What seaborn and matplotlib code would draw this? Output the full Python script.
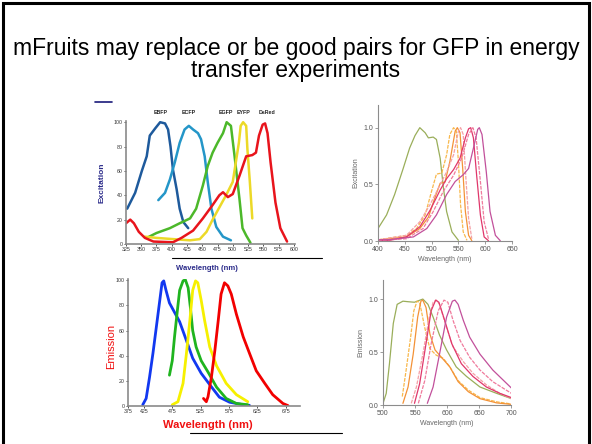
import matplotlib
matplotlib.use("Agg")
import matplotlib.pyplot as plt
from matplotlib.patches import Rectangle
from matplotlib.lines import Line2D
import seaborn as sns

# ---- top-left: excitation of the classic FPs ----
ex_labels = ["EBFP", "ECFP", "EGFP", "EYFP", "DsRed"]
ebfp_ex_x = [327, 340, 351, 359, 364, 373, 381, 389, 394, 398, 402, 408, 413, 419, 427]
ebfp_ex_y = [29, 42, 60, 72, 89, 95, 100, 99, 94, 80, 61, 45, 29, 18, 13]
ecfp_ex_x = [378, 389, 397, 405, 413, 421, 428, 435, 443, 448, 454, 459, 465, 473, 484, 497]
ecfp_ex_y = [36, 42, 53, 67, 83, 94, 97, 94, 91, 86, 72, 51, 29, 14, 6, 3]
egfp_ex_x = [359, 375, 397, 413, 430, 440, 451, 459, 467, 475, 484, 490, 497, 503, 511, 516, 522, 529]
egfp_ex_y = [5, 9, 13, 17, 21, 29, 48, 64, 75, 83, 91, 100, 97, 72, 37, 13, 7, 1]
eyfp_ex_x = [356, 375, 402, 430, 446, 457, 467, 478, 489, 500, 505, 510, 513, 517, 522, 524, 528, 532]
eyfp_ex_y = [6, 5, 4, 3, 4, 10, 20, 30, 40, 51, 67, 83, 97, 100, 97, 78, 51, 21]
dsred_ex_x = [325, 332, 338, 346, 356, 370, 402, 416, 435, 451, 467, 478, 484, 492, 500, 511,
              522, 532, 538, 543, 549, 553, 557, 562, 570, 578, 589]
dsred_ex_y = [17, 20, 17, 10, 5, 2, 1.4, 5, 11, 21, 32, 40, 42.5, 38.5, 41, 56,
              72, 73, 75, 89, 98, 99, 91, 67, 34, 13, 2]
tl_xticks = [325, 350, 375, 400, 425, 450, 475, 500, 525, 550, 575, 600]
tl_yticks = [0, 20, 40, 60, 80, 100]

# ---- bottom-left: emission of the classic FPs ----
bfp_em_x = [423, 429, 435, 441, 447, 453, 457, 460, 464, 470, 479, 488, 500, 511, 526, 541, 558, 576, 600, 611]
bfp_em_y = [1, 6, 23, 42, 63, 84, 98, 99.5, 92, 82, 74.5, 67, 52, 38, 26, 17, 7, 3, 1, 0.5]
gfp_em_x = [470, 475, 479, 484, 488, 494, 498, 503, 507, 511, 517, 526, 538, 553, 570, 588, 608]
gfp_em_y = [24.5, 36, 55, 76, 92, 99.5, 100.5, 94, 78, 60, 47, 36, 27, 15, 6, 2, 1]
yfp_em_x = [475, 485, 494, 500, 506, 511, 516, 520, 526, 532, 541, 553, 570, 588, 608]
yfp_em_y = [1, 3.4, 18, 42, 68, 92, 99.5, 98, 84, 68, 47, 32, 18, 9, 3.4]
dsred_em_x = [530, 535, 538, 544, 550, 556, 561, 567, 573, 579, 588, 600, 611, 623, 638, 652, 670, 679]
dsred_em_y = [6, 3.4, 7.4, 23, 44, 68, 89, 98, 95.5, 89, 73, 55, 42, 28, 18, 9, 2, 0.3]
bl_xticks = [397, 425, 475, 525, 575, 625, 675]
bl_xticklabels = ["375", "425", "475", "525", "575", "625", "675"]
bl_yticks = [0, 20, 40, 60, 80, 100]

# ---- top-right: excitation of the mFruits (plus GFP) ----
g_ex_x = [400, 416, 431, 447, 459, 469, 478, 488, 494, 503, 509, 516, 522, 528, 538, 550]
g_ex_y = [0.11, 0.23, 0.41, 0.64, 0.82, 0.93, 1.0, 0.955, 0.91, 0.917, 0.896, 0.73, 0.47, 0.26, 0.08, 0.006]
a_ex_x = [400, 453, 472, 488, 500, 509, 519, 528, 534, 541, 546, 550, 554, 559, 566]
a_ex_y = [0.01, 0.05, 0.11, 0.23, 0.44, 0.59, 0.60, 0.76, 0.94, 1.0, 0.97, 0.70, 0.32, 0.08, 0.006]
b_ex_x = [400, 453, 478, 494, 506, 516, 525, 534, 544, 548, 553, 558, 563, 569, 575]
b_ex_y = [0.01, 0.036, 0.11, 0.21, 0.38, 0.51, 0.52, 0.70, 0.97, 1.0, 0.955, 0.64, 0.26, 0.05, 0.003]
c_ex_x = [400, 453, 478, 497, 513, 528, 541, 550, 554, 559, 564, 569, 575]
c_ex_y = [0.01, 0.05, 0.17, 0.32, 0.47, 0.61, 0.76, 0.97, 1.0, 0.94, 0.55, 0.20, 0.02]
d_ex_x = [400, 422, 453, 478, 497, 516, 528, 541, 553, 563, 569, 573, 578, 584, 591, 598, 606]
d_ex_y = [0.005, 0.006, 0.036, 0.125, 0.27, 0.45, 0.55, 0.63, 0.73, 0.91, 0.99, 1.0, 0.91, 0.58, 0.23, 0.036, 0.003]
e_ex_x = [400, 453, 484, 503, 522, 541, 556, 569, 577, 583, 591, 598, 606]
e_ex_y = [0.005, 0.02, 0.11, 0.26, 0.44, 0.58, 0.73, 0.94, 1.0, 0.91, 0.525, 0.17, 0.02]
f_ex_x = [400, 422, 466, 491, 509, 528, 544, 559, 569, 578, 586, 589, 594, 602, 609, 619, 628]
f_ex_y = [0.01, 0.012, 0.036, 0.11, 0.23, 0.41, 0.525, 0.585, 0.64, 0.82, 0.985, 1.0, 0.94, 0.61, 0.26, 0.05, 0.003]
tr_xticks = [400, 450, 500, 550, 600, 650]
r_yticks = [0.0, 0.5, 1.0]

# ---- bottom-right: emission of the mFruits (plus GFP) ----
g_em_x = [500, 505, 510, 516, 522, 531, 539, 549, 562, 570, 578, 588, 599, 614, 630, 651, 677, 700]
g_em_y = [0.016, 0.11, 0.39, 0.77, 0.95, 0.98, 0.975, 0.97, 1.0, 0.95, 0.83, 0.66, 0.52, 0.36, 0.27, 0.17, 0.11, 0.06]
a_em_x = [530, 536, 543, 548, 553, 557, 565, 573, 583, 594, 604, 617, 633, 651, 677, 700]
a_em_y = [0.08, 0.33, 0.64, 0.89, 0.98, 0.97, 0.73, 0.53, 0.47, 0.44, 0.36, 0.23, 0.14, 0.07, 0.03, 0.01]
b_em_x = [531, 539, 547, 554, 559, 562, 567, 573, 581, 591, 604, 617, 633, 651, 677, 700]
b_em_y = [0.016, 0.17, 0.48, 0.83, 0.98, 0.99, 0.92, 0.67, 0.52, 0.45, 0.36, 0.22, 0.125, 0.06, 0.02, 0.006]
c_em_x = [544, 552, 562, 572, 578, 583, 588, 599, 609, 625, 640, 661, 682, 700]
c_em_y = [0.016, 0.17, 0.48, 0.83, 0.97, 0.99, 0.95, 0.73, 0.55, 0.41, 0.30, 0.19, 0.11, 0.06]
d_em_x = [549, 557, 567, 575, 582, 587, 596, 607, 622, 640, 661, 682, 700]
d_em_y = [0.016, 0.20, 0.58, 0.89, 0.99, 0.97, 0.80, 0.58, 0.39, 0.27, 0.17, 0.11, 0.07]
e_em_x = [555, 565, 575, 586, 595, 601, 609, 620, 635, 651, 671, 700]
e_em_y = [0.016, 0.23, 0.58, 0.89, 0.99, 0.97, 0.80, 0.61, 0.45, 0.33, 0.22, 0.11]
f_em_x = [569, 578, 588, 599, 608, 612, 617, 625, 635, 651, 671, 700]
f_em_y = [0.016, 0.17, 0.48, 0.83, 0.98, 0.99, 0.95, 0.80, 0.64, 0.48, 0.33, 0.16]
br_xticks = [500, 550, 600, 650, 700]

title_text = "mFruits may replace or be good pairs for GFP in energy\ntransfer experiments"

sns.set_style("ticks")
plt.rcParams["font.family"] = ["Liberation Sans", "DejaVu Sans"]

fig = plt.figure(figsize=(5.92, 4.44), dpi=100)
fig.patch.set_facecolor("white")

# slide frame
fig.add_artist(Rectangle((0.005, -0.02), 0.99, 1.013, transform=fig.transFigure,
                         fill=False, ec="black", lw=2.2))
fig.text(0.5, 0.866, title_text, ha="center", va="center", fontsize=16.5,
         linespacing=0.95, color="black")

ax_tl = fig.add_axes([0.2128, 0.4505, 0.2855, 0.277])
ax_tr = fig.add_axes([0.6385, 0.4572, 0.2264, 0.3063])
ax_bl = fig.add_axes([0.2162, 0.0856, 0.2905, 0.286])
ax_br = fig.add_axes([0.647, 0.0878, 0.2169, 0.2816])


def curve(ax, x, y, color, lw, dashes=None):
    sns.lineplot(x=x, y=y, ax=ax, color=color, lw=lw, estimator=None,
                 solid_capstyle="round", solid_joinstyle="round")
    if dashes is not None:
        ax.lines[-1].set_dashes(dashes)


def left_axes(ax, xticks, yticks, xlim, ylim):
    ax.set_xlim(*xlim)
    ax.set_ylim(*ylim)
    ax.set_xticks(xticks)
    ax.set_yticks(yticks)
    for s in ["top", "right"]:
        ax.spines[s].set_visible(False)
    for s in ["left", "bottom"]:
        ax.spines[s].set_color("#8a8a8a")
        ax.spines[s].set_linewidth(1.2)
    ax.tick_params(labelsize=3.8, length=1.5, width=0.6, pad=1, colors="#333333")
    ax.set_xlabel("")
    ax.set_ylabel("")
    ax.patch.set_alpha(0)


def right_axes(ax, xticks, xlim, ylim, ylabel):
    ax.set_xlim(*xlim)
    ax.set_ylim(*ylim)
    ax.set_xticks(xticks)
    ax.set_yticks(r_yticks)
    ax.set_yticklabels(["0.0", "0.5", "1.0"])
    for s in ["top", "right"]:
        ax.spines[s].set_visible(False)
    for s in ["left", "bottom"]:
        ax.spines[s].set_color("#8c8c8c")
        ax.spines[s].set_linewidth(0.8)
    ax.tick_params(labelsize=5, length=2, width=0.6, pad=1.5, colors="#8c8c8c",
                   labelcolor="#555555")
    ax.set_xlabel("Wavelength (nm)", fontsize=5, color="#666666", labelpad=2)
    ax.set_ylabel(ylabel, fontsize=5, color="#666666", labelpad=3)
    ax.patch.set_alpha(0)


# top-left
curve(ax_tl, ebfp_ex_x, ebfp_ex_y, "#1e5a9c", 1.8)
curve(ax_tl, ecfp_ex_x, ecfp_ex_y, "#2496c8", 1.8)
curve(ax_tl, egfp_ex_x, egfp_ex_y, "#4cb82a", 1.8)
curve(ax_tl, eyfp_ex_x, eyfp_ex_y, "#ecd928", 1.8)
curve(ax_tl, dsred_ex_x, dsred_ex_y, "#e8141c", 1.8)
left_axes(ax_tl, tl_xticks, tl_yticks, (325, 602), (0, 101))
for lab, xp in zip(ex_labels, [382, 428, 488, 517, 556]):
    ax_tl.text(xp, 108, lab, ha="center", va="center", fontsize=3.8,
               fontweight="bold", color="#222222")
ax_tl.text(-0.14, 0.5, "Excitation", transform=ax_tl.transAxes, rotation=90,
           ha="center", va="center", fontsize=6, fontweight="bold", color="#2b2b8a")
fig.text(0.35, 0.396, "Wavelength (nm)", ha="center", va="center", fontsize=5.5,
         fontweight="bold", color="#2b2b8a")

# bottom-left
curve(ax_bl, bfp_em_x, bfp_em_y, "#1238f0", 2.0)
curve(ax_bl, gfp_em_x, gfp_em_y, "#1fb41f", 2.0)
curve(ax_bl, yfp_em_x, yfp_em_y, "#f6f000", 2.0)
curve(ax_bl, dsred_em_x, dsred_em_y, "#f20000", 2.0)
left_axes(ax_bl, bl_xticks, bl_yticks, (397, 700), (0, 101))
ax_bl.set_xticklabels(bl_xticklabels)
ax_bl.text(-0.1, 0.47, "Emission", transform=ax_bl.transAxes, rotation=90,
           ha="center", va="center", fontsize=8, color="#f01010")
fig.text(0.351, 0.043, "Wavelength (nm)", ha="center", va="center", fontsize=8,
         fontweight="bold", color="#f01010")

# top-right
curve(ax_tr, g_ex_x, g_ex_y, "#9aae5a", 0.9)
curve(ax_tr, a_ex_x, a_ex_y, "#f8b84c", 0.9, (3, 1))
curve(ax_tr, b_ex_x, b_ex_y, "#f39237", 0.9)
curve(ax_tr, c_ex_x, c_ex_y, "#f5a0a6", 0.9, (3, 1))
curve(ax_tr, d_ex_x, d_ex_y, "#e0376b", 0.9)
curve(ax_tr, e_ex_x, e_ex_y, "#f07a9c", 0.9, (3, 1))
curve(ax_tr, f_ex_x, f_ex_y, "#c2509b", 0.9)
right_axes(ax_tr, tr_xticks, (400, 650), (0, 1.2), "Excitation")

# bottom-right
curve(ax_br, g_em_x, g_em_y, "#9aae5a", 0.9)
curve(ax_br, a_em_x, a_em_y, "#f8b84c", 0.9, (3, 1))
curve(ax_br, b_em_x, b_em_y, "#f39237", 0.9)
curve(ax_br, c_em_x, c_em_y, "#f5a0a6", 0.9, (3, 1))
curve(ax_br, d_em_x, d_em_y, "#e0376b", 0.9)
curve(ax_br, e_em_x, e_em_y, "#f07a9c", 0.9, (3, 1))
curve(ax_br, f_em_x, f_em_y, "#c2509b", 0.9)
right_axes(ax_br, br_xticks, (500, 700), (0, 1.18), "Emission")

# stray lines left over on the slide
fig.add_artist(Line2D([95 / 592, 112 / 592], [1 - 102 / 444] * 2, color="#1a1a7a", lw=1.2))
fig.add_artist(Line2D([172 / 592, 322 / 592], [1 - 258 / 444] * 2, color="black", lw=0.8))
fig.add_artist(Line2D([190 / 592, 342 / 592], [1 - 433 / 444] * 2, color="black", lw=0.8))

fig.savefig("out.png", dpi=100)
